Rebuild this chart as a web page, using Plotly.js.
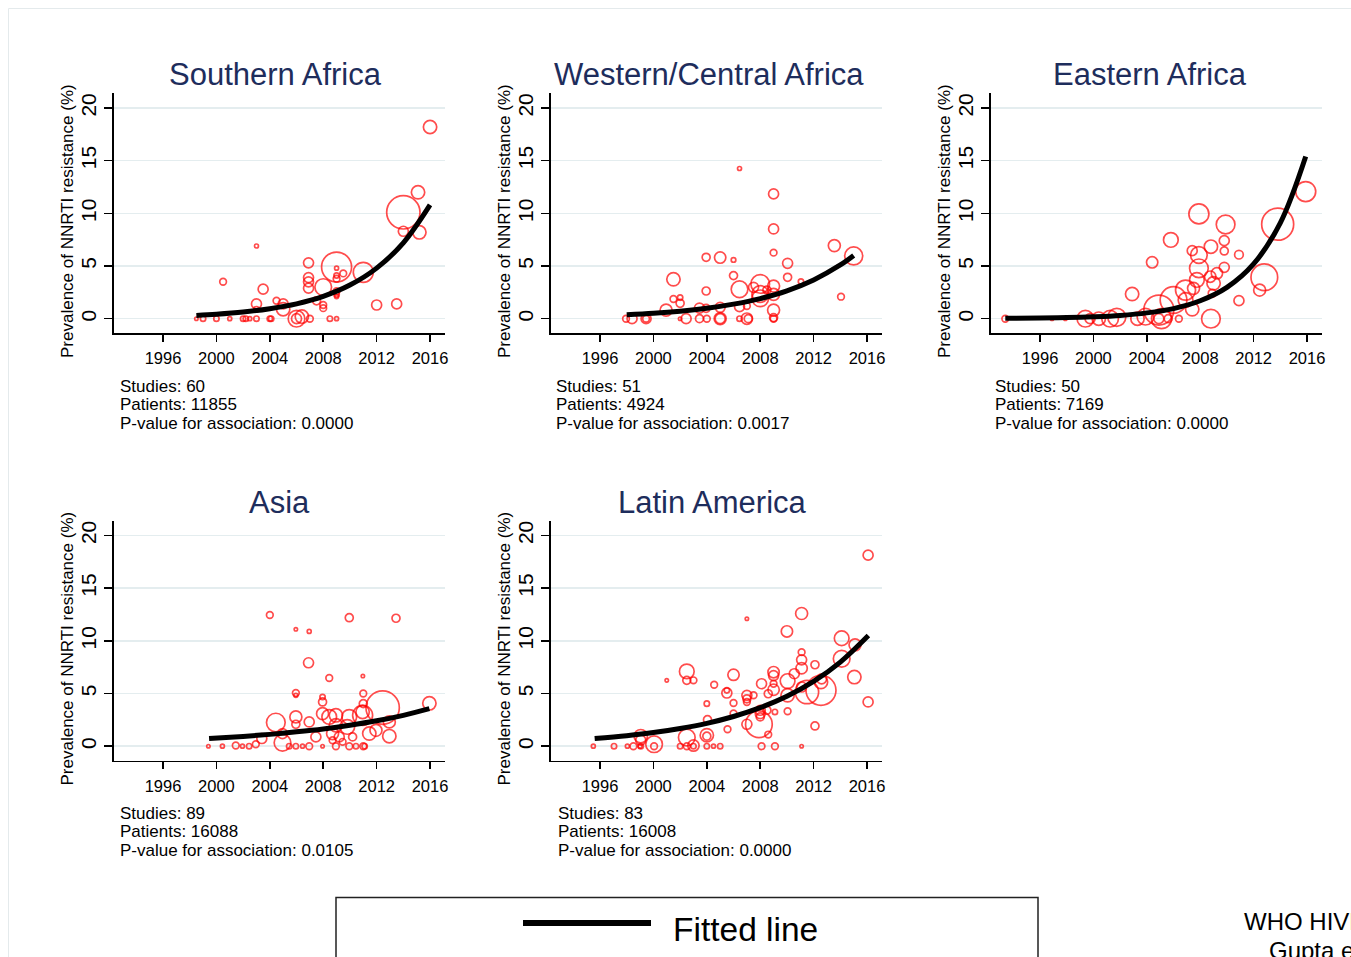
<!DOCTYPE html>
<html><head><meta charset="utf-8">
<script src="https://cdn.plot.ly/plotly-3.0.1.min.js"></script>
<style>html,body{margin:0;padding:0;background:#fff;overflow:hidden}#chart{width:1351px;height:957px}</style>
</head><body><div id="chart"></div>
<script>
// ---------------- DATA ----------------
const regionNames = ["Southern Africa", "Western/Central Africa", "Eastern Africa", "Asia", "Latin America"];
const studies = [60, 51, 50, 89, 83];
const patients = [11855, 4924, 7169, 16088, 16008];
const pValues = ["0.0000", "0.0017", "0.0000", "0.0105", "0.0000"];
const xTickYears = [1996, 2000, 2004, 2008, 2012, 2016];
const yTickVals = [0, 5, 10, 15, 20];

// Southern Africa
const saYear = [2016.0, 2015.1, 2014.0, 2014.0, 2015.2, 2003.0, 2000.5, 2003.5, 2006.9, 2006.9, 2006.9, 2006.9, 2009.0, 2009.0, 2009.0, 2009.5, 2009.0, 2011.0, 2008.0, 2009.0, 2009.0, 2009.0, 2004.5, 2003.0, 2003.0, 2005.0, 2005.0, 2007.5, 2008.0, 2008.0, 2012.0, 2013.5, 2006.0, 2006.0, 2006.4, 2007.0, 1998.5, 1999.0, 2000.0, 2001.0, 2002.0, 2002.2, 2002.5, 2003.0, 2004.0, 2004.1, 2008.5, 2009.0];
const saPrev = [18.2, 12.0, 10.1, 8.3, 8.2, 6.9, 3.5, 2.8, 5.3, 3.9, 3.5, 2.9, 4.9, 4.8, 4.1, 4.3, 3.8, 4.4, 3.0, 2.6, 2.3, 2.1, 1.7, 1.4, 0.9, 1.4, 0.9, 1.7, 1.3, 1.0, 1.3, 1.4, 0.0, 0.0, 0.2, 0.0, 0.0, 0.0, 0.0, 0.0, 0.0, 0.0, 0.0, 0.0, 0.0, 0.0, 0.0, 0.0];
const saN = [222, 222, 1390, 125, 222, 20, 56, 125, 125, 125, 125, 125, 1125, 20, 36, 56, 56, 500, 347, 56, 36, 20, 56, 125, 36, 125, 222, 80, 56, 56, 125, 125, 347, 125, 222, 56, 14, 36, 36, 20, 36, 36, 20, 36, 36, 36, 36, 20];
const saFitYear = [1998.5, 2000, 2002, 2004, 2006, 2008, 2010, 2012, 2014, 2016];
const saFitPrev = [0.31, 0.42, 0.63, 0.95, 1.41, 2.12, 3.19, 4.8, 7.2, 10.8];

// Western/Central Africa
const wcaYear = [2006.45, 2009.0, 2009.0, 2009.0, 2013.55, 2015.0, 2003.95, 2005.0, 2006.0, 2010.05, 2001.5, 2006.0, 2010.05, 2011.05, 2008.0, 2006.45, 2007.5, 2009.0, 2009.0, 2008.5, 2008.0, 2008.0, 2003.95, 2014.05, 2001.5, 2002.0, 2002.0, 2000.95, 2003.45, 2003.95, 2005.0, 2006.45, 2007.0, 2009.0, 1997.95, 1998.4, 1999.45, 1999.45, 2002.0, 2002.45, 2003.45, 2004.0, 2005.0, 2005.0, 2006.45, 2007.0, 2007.1, 2009.0, 2009.0];
const wcaPrev = [14.26, 11.85, 8.52, 6.27, 6.94, 5.96, 5.83, 5.80, 5.58, 5.26, 3.74, 4.09, 3.93, 3.52, 3.30, 2.79, 2.98, 3.10, 2.31, 2.72, 2.34, 1.93, 2.63, 2.09, 1.87, 2.0, 1.46, 0.82, 1.01, 0.98, 1.08, 1.14, 1.2, 0.82, 0, 0, 0, 0, 0, 0, 0, 0, 0, 0, 0, 0, 0, 0.1, 0];
const wcaN = [20, 125, 125, 56, 180, 405, 80, 160, 27, 125, 222, 80, 80, 36, 436, 347, 125, 180, 180, 80, 347, 347, 80, 56, 56, 36, 80, 180, 125, 80, 125, 125, 56, 180, 56, 125, 125, 56, 14, 125, 80, 56, 180, 125, 36, 160, 80, 80, 56];
const wcaFitYear = [1998, 2000, 2002, 2004, 2006, 2008, 2010, 2012, 2014, 2015];
const wcaFitPrev = [0.37, 0.51, 0.71, 0.99, 1.38, 1.91, 2.65, 3.68, 5.1, 6.0];

// Eastern Africa
const eaYear = [2015.9, 2013.8, 2012.8, 2012.45, 2010.9, 2010.9, 2007.9, 2009.9, 2009.8, 2009.8, 2005.8, 2007.4, 2008.8, 2007.9, 2004.4, 2007.9, 2009.8, 2009.25, 2008.75, 2007.75, 2009.0, 2006.9, 2007.5, 2008.9, 2002.9, 2006.0, 2006.9, 2007.4, 2004.9, 2008.8, 2003.9, 2003.3, 2001.75, 2001.25, 2000.4, 1999.4, 1999.75, 2004.9, 2005.6, 2006.4, 1993.4, 1996.9, 1997.9, 2005.1];
const eaPrev = [12.07, 8.97, 3.93, 2.72, 1.71, 6.08, 9.95, 8.94, 7.41, 6.43, 7.48, 6.46, 6.84, 6.05, 5.35, 4.78, 4.88, 4.31, 3.99, 3.68, 3.36, 2.72, 2.88, 2.41, 2.34, 1.77, 1.77, 0.89, 0.82, 0, 0.19, 0, 0.13, 0, 0, 0, 0, 0, 0, 0, 0, 0, 0, 0];
const eaN = [500, 1280, 890, 180, 125, 94, 500, 436, 125, 80, 270, 125, 222, 347, 160, 436, 125, 160, 160, 270, 222, 500, 180, 80, 222, 890, 270, 222, 1125, 436, 347, 222, 405, 347, 222, 347, 125, 125, 80, 56, 56, 14, 14, 500];
const eaFitYear = [1993.4, 1996, 1998, 2000, 2002, 2004, 2006, 2008, 2010, 2012, 2014, 2015.9];
const eaFitPrev = [0.03, 0.06, 0.1, 0.18, 0.31, 0.55, 0.96, 1.7, 2.97, 5.2, 9.1, 15.4];

// Asia
const asYear = [2004.0, 2009.95, 2013.45, 2005.95, 2006.95, 2006.9, 2008.45, 2010.97, 2005.95, 2005.95, 2011.0, 2007.95, 2007.95, 2011.0, 2015.95, 2012.45, 2004.45, 2005.95, 2006.95, 2005.95, 2007.95, 2008.45, 2008.95, 2009.95, 2010.95, 2010.95, 2008.95, 2009.8, 2008.7, 2009.2, 2011.45, 2011.95, 2012.95, 2012.95, 2003.4, 2002.95, 2004.95, 2004.95, 2007.45, 1999.4, 2000.45, 2001.45, 2001.95, 2002.45, 2005.45, 2005.95, 2006.45, 2006.95, 2007.95, 2008.95, 2009.95, 2010.45, 2011.0, 2011.1, 2008.7, 2010.2, 2009.45];
const asPrev = [12.46, 12.2, 12.15, 11.1, 10.9, 7.92, 6.47, 6.66, 5.05, 4.83, 5.0, 4.67, 4.2, 4.04, 4.07, 3.66, 2.24, 2.78, 2.3, 2.08, 3.09, 2.78, 2.93, 2.78, 2.93, 3.25, 1.99, 1.83, 1.2, 0.88, 1.2, 1.51, 0.95, 2.3, 0.73, 0.19, 1.2, 0.32, 0.88, 0, 0, 0.06, 0, 0, 0, 0, 0, 0, 0, 0, 0, 0, 0, 0, 0.57, 0.88, 0.41];
const asN = [56, 80, 80, 9, 20, 125, 56, 14, 56, 20, 56, 36, 80, 80, 222, 1390, 436, 180, 125, 80, 180, 270, 222, 270, 500, 222, 222, 270, 180, 125, 222, 180, 222, 180, 125, 56, 125, 347, 125, 14, 20, 56, 20, 36, 36, 36, 20, 56, 14, 56, 56, 36, 56, 36, 56, 80, 56];
const asFitYear = [1999.45, 2002, 2004, 2006, 2008, 2010, 2012, 2014, 2015.95];
const asFitPrev = [0.73, 0.93, 1.12, 1.36, 1.64, 1.99, 2.41, 2.93, 3.56];

// Latin America
const laYear = [2016.08, 2011.1, 2007.0, 2010.0, 2014.1, 2015.1, 2011.1, 2011.1, 2011.1, 2012.1, 2014.1, 2002.5, 2002.5, 2003.0, 2001.0, 2006.0, 2009.0, 2009.0, 2010.55, 2010.05, 2015.05, 2012.55, 2012.6, 2004.55, 2008.1, 2009.0, 2009.0, 2005.5, 2005.5, 2012.55, 2010.05, 2008.6, 2011.1, 2007.0, 2007.0, 2007.5, 2007.0, 2011.5, 2006.0, 2004.0, 2016.08, 2008.0, 2008.0, 2008.0, 2008.5, 2009.1, 2010.05, 2006.0, 2004.05, 2007.9, 2007.0, 2012.1, 2005.55, 2008.6, 2004.0, 2004.0, 2002.5, 1999.05, 1999.05, 2000.05, 2000.05, 2003.0, 1995.5, 1997.05, 1998.05, 1998.5, 1999.0, 1999.05, 2002.0, 2002.5, 2003.0, 2004.0, 2004.5, 2005.0, 2008.1, 2009.1, 2011.1];
const laPrev = [18.14, 12.6, 12.1, 10.9, 10.25, 9.62, 8.93, 8.2, 7.4, 7.73, 8.3, 7.1, 6.25, 6.25, 6.25, 6.78, 7.03, 6.7, 6.88, 6.18, 6.56, 6.09, 6.4, 5.84, 5.93, 5.36, 5.93, 5.05, 5.3, 5.3, 4.83, 4.98, 5.62, 4.83, 4.5, 4.83, 4.2, 5.14, 4.1, 4.04, 4.2, 3.41, 3.1, 2.78, 3.41, 3.25, 3.31, 3.1, 2.52, 2.08, 2.08, 1.92, 1.61, 1.1, 1.04, 0.95, 0.82, 0.95, 0.57, 0.19, 0, 0.06, 0, 0, 0, 0, 0, 0, 0, 0, 0, 0, 0, 0, 0, 0, 0];
const laN = [125, 180, 14, 160, 270, 180, 56, 125, 160, 80, 347, 270, 80, 56, 14, 160, 160, 125, 125, 270, 222, 222, 125, 56, 125, 160, 56, 125, 36, 1125, 222, 80, 125, 125, 80, 56, 56, 680, 56, 36, 125, 125, 125, 80, 80, 36, 56, 56, 80, 890, 125, 80, 56, 56, 222, 80, 347, 222, 125, 347, 56, 160, 20, 36, 20, 56, 20, 36, 36, 56, 36, 36, 20, 36, 56, 56, 14];
const laFitYear = [1995.6, 1998, 2000, 2002, 2004, 2006, 2008, 2010, 2012, 2014, 2016.1];
const laFitPrev = [0.73, 1.0, 1.29, 1.68, 2.17, 2.82, 3.66, 4.74, 6.15, 7.98, 10.5];

// ---------------- LAYOUT ----------------
const W = 1351, H = 957;
const px = x => x / W;
const py = y => 1 - y / H;
const FONT = "Liberation Sans, Arial, Helvetica, sans-serif";
const PW = 331;

const panels = [
  {year: saYear, prev: saPrev, n: saN, fy: saFitYear, fp: saFitPrev, left: 114, top: 93, bottom: 333, tx: 275, ty: 75, nx: 118, ny: 386},
  {year: wcaYear, prev: wcaPrev, n: wcaN, fy: wcaFitYear, fp: wcaFitPrev, left: 551, top: 93, bottom: 333, tx: 709, ty: 75, nx: 554, ny: 386},
  {year: eaYear, prev: eaPrev, n: eaN, fy: eaFitYear, fp: eaFitPrev, left: 991, top: 93, bottom: 333, tx: 1150, ty: 75, nx: 993, ny: 386},
  {year: asYear, prev: asPrev, n: asN, fy: asFitYear, fp: asFitPrev, left: 114, top: 520.5, bottom: 760.5, tx: 279, ty: 502, nx: 118, ny: 813},
  {year: laYear, prev: laPrev, n: laN, fy: laFitYear, fp: laFitPrev, left: 551, top: 520.5, bottom: 760.5, tx: 712, ty: 502, nx: 556, ny: 813}
];

const traces = [];
const layout = {
  width: W, height: H,
  margin: {l: 0, r: 0, t: 0, b: 0},
  paper_bgcolor: "#ffffff", plot_bgcolor: "#ffffff",
  showlegend: false, hovermode: false,
  font: {family: FONT, color: "#000"},
  annotations: [], shapes: []
};

panels.forEach((p, i) => {
  const k = i === 0 ? "" : String(i + 1);
  const xa = "x" + k, ya = "y" + k;
  traces.push({
    type: "scatter", mode: "markers", x: p.year, y: p.prev, xaxis: xa, yaxis: ya,
    cliponaxis: false,
    marker: {symbol: "circle-open", color: "#ff0000", size: p.n, sizemode: "area", sizeref: 2.5, sizemin: 1.7,
             line: {width: 1.7, color: "#ff0000"}}
  });
  traces.push({
    type: "scatter", mode: "lines", x: p.fy, y: p.fp, xaxis: xa, yaxis: ya,
    line: {color: "#000000", width: 5, shape: "spline"}
  });
  layout["xaxis" + k] = {
    domain: [px(p.left), px(p.left + PW)], range: [1992.33, 2017.12], anchor: ya,
    tickmode: "array", tickvals: xTickYears, ticks: "outside", ticklen: 7, tickwidth: 1.5, tickcolor: "#000",
    showline: true, linecolor: "#000", linewidth: 1.5, showgrid: false, zeroline: false,
    tickfont: {size: 16.5, color: "#000", family: FONT}, ticklabelstandoff: 3, fixedrange: true
  };
  layout["yaxis" + k] = {
    domain: [py(p.bottom), py(p.top)], range: [-1.36, 21.43], anchor: xa,
    tickmode: "array", tickvals: yTickVals, tickangle: -90, ticks: "outside", ticklen: 8, tickwidth: 1.5, tickcolor: "#000",
    showline: true, linecolor: "#000", linewidth: 2, showgrid: true, gridcolor: "#e4edef", gridwidth: 1.5, zeroline: false,
    tickfont: {size: 21, color: "#000", family: FONT}, fixedrange: true
  };
  // panel title
  layout.annotations.push({xref: "paper", yref: "paper", x: px(p.tx), y: py(p.ty), xanchor: "center", yanchor: "middle",
    text: regionNames[i], showarrow: false, font: {size: 31, color: "#1e2d5c", family: FONT}});
  // y axis title
  layout.annotations.push({xref: "paper", yref: "paper", x: px(p.left - 47), y: py((p.top + p.bottom) / 2 + 8),
    xanchor: "center", yanchor: "middle", textangle: -90,
    text: "Prevalence of NNRTI resistance (%)", showarrow: false, font: {size: 17, color: "#000", family: FONT}});
  // notes
  const notes = ["Studies: " + studies[i], "Patients: " + patients[i], "P-value for association: " + pValues[i]];
  notes.forEach((t, j) => {
    layout.annotations.push({xref: "paper", yref: "paper", x: px(p.nx), y: py(p.ny + j * 18.5),
      xanchor: "left", yanchor: "middle", text: t, showarrow: false, font: {size: 17, color: "#000", family: FONT}});
  });
});

// outer light frame
layout.shapes.push({type: "rect", xref: "paper", yref: "paper", x0: px(8.5), x1: px(1360), y0: py(8.5), y1: py(980),
  line: {color: "#e4eaec", width: 1}, fillcolor: "rgba(0,0,0,0)", layer: "below"});
// legend box
layout.shapes.push({type: "rect", xref: "paper", yref: "paper", x0: px(336), x1: px(1038), y0: py(897.5), y1: py(975),
  line: {color: "#222", width: 1.5}, fillcolor: "rgba(0,0,0,0)"});
layout.shapes.push({type: "line", xref: "paper", yref: "paper", x0: px(523), x1: px(651), y0: py(923), y1: py(923),
  line: {color: "#000", width: 6}});
layout.annotations.push({xref: "paper", yref: "paper", x: px(671), y: py(929), xanchor: "left", yanchor: "middle",
  text: "Fitted line", showarrow: false, font: {size: 33.5, color: "#000", family: FONT}});
layout.annotations.push({xref: "paper", yref: "paper", x: px(1242), y: py(921), xanchor: "left", yanchor: "middle",
  text: "WHO HIVDR", showarrow: false, font: {size: 24, color: "#000", family: FONT}});
layout.annotations.push({xref: "paper", yref: "paper", x: px(1267), y: py(950), xanchor: "left", yanchor: "middle",
  text: "Gupta et al.", showarrow: false, font: {size: 24, color: "#000", family: FONT}});

Plotly.newPlot("chart", traces, layout, {displayModeBar: false, staticPlot: true});
</script>
</body></html>
